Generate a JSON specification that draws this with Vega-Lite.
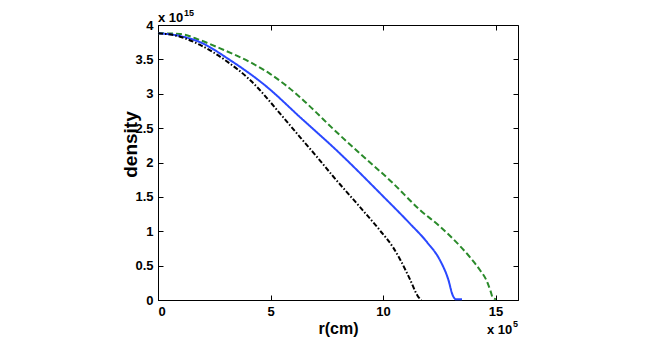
{
  "$schema": "https://vega.github.io/schema/vega-lite/v6.json",
  "width": 360,
  "height": 275,
  "autosize": {"type": "none"},
  "padding": {"left": 158, "top": 25, "right": 136, "bottom": 37},
  "background": "white",
  "config": {
    "view": {"stroke": "black", "strokeWidth": 1},
    "font": "Liberation Sans",
    "axis": {
      "grid": false,
      "domainColor": "black",
      "tickColor": "black",
      "tickSize": -5,
      "labelFont": "Liberation Sans",
      "labelFontWeight": "bold",
      "labelFontSize": 13,
      "labelColor": "black",
      "titleFont": "Liberation Sans",
      "titleFontWeight": "bold",
      "titleColor": "black"
    }
  },
  "datasets": {
    "curves": [
      {"r": 0, "density": 3.88, "series": "green"},
      {"r": 0.98, "density": 3.87, "series": "green"},
      {"r": 1.87, "density": 3.78, "series": "green"},
      {"r": 2.76, "density": 3.66, "series": "green"},
      {"r": 4.09, "density": 3.46, "series": "green"},
      {"r": 4.98, "density": 3.29, "series": "green"},
      {"r": 6.31, "density": 2.95, "series": "green"},
      {"r": 6.9, "density": 2.77, "series": "green"},
      {"r": 7.78, "density": 2.49, "series": "green"},
      {"r": 8.98, "density": 2.13, "series": "green"},
      {"r": 10.44, "density": 1.7, "series": "green"},
      {"r": 11.64, "density": 1.31, "series": "green"},
      {"r": 12.53, "density": 1.07, "series": "green"},
      {"r": 13.11, "density": 0.89, "series": "green"},
      {"r": 13.87, "density": 0.62, "series": "green"},
      {"r": 14.3, "density": 0.44, "series": "green"},
      {"r": 14.62, "density": 0.27, "series": "green"},
      {"r": 14.78, "density": 0.13, "series": "green"},
      {"r": 14.88, "density": 0.03, "series": "green"},
      {"r": 15.02, "density": 0.01, "series": "green"},

      {"r": 0, "density": 3.88, "series": "blue"},
      {"r": 0.98, "density": 3.84, "series": "blue"},
      {"r": 1.87, "density": 3.75, "series": "blue"},
      {"r": 3.2, "density": 3.49, "series": "blue"},
      {"r": 4.84, "density": 3.1, "series": "blue"},
      {"r": 6.31, "density": 2.66, "series": "blue"},
      {"r": 7.96, "density": 2.17, "series": "blue"},
      {"r": 10.0, "density": 1.51, "series": "blue"},
      {"r": 11.2, "density": 1.11, "series": "blue"},
      {"r": 11.96, "density": 0.84, "series": "blue"},
      {"r": 12.53, "density": 0.58, "series": "blue"},
      {"r": 12.89, "density": 0.31, "series": "blue"},
      {"r": 13.11, "density": 0.06, "series": "blue"},
      {"r": 13.24, "density": 0.01, "series": "blue"},
      {"r": 13.51, "density": 0.01, "series": "blue"},

      {"r": 0, "density": 3.88, "series": "black"},
      {"r": 0.98, "density": 3.83, "series": "black"},
      {"r": 1.87, "density": 3.71, "series": "black"},
      {"r": 2.98, "density": 3.49, "series": "black"},
      {"r": 4.09, "density": 3.2, "series": "black"},
      {"r": 5.56, "density": 2.66, "series": "black"},
      {"r": 6.31, "density": 2.37, "series": "black"},
      {"r": 7.07, "density": 2.08, "series": "black"},
      {"r": 7.78, "density": 1.8, "series": "black"},
      {"r": 8.98, "density": 1.35, "series": "black"},
      {"r": 9.87, "density": 1.01, "series": "black"},
      {"r": 10.44, "density": 0.77, "series": "black"},
      {"r": 10.76, "density": 0.59, "series": "black"},
      {"r": 11.2, "density": 0.3, "series": "black"},
      {"r": 11.56, "density": 0.05, "series": "black"},
      {"r": 11.7, "density": 0.0, "series": "black"}
    ],
    "corner": [{"r": 0, "density": 4}],
    "corner2": [{"r": 16, "density": 0}]
  },
  "layer": [
    {
      "data": {"name": "curves"},
      "mark": {"type": "line", "strokeWidth": 2, "interpolate": "monotone"},
      "encoding": {
        "x": {
          "field": "r", "type": "quantitative",
          "scale": {"domain": [0, 16], "nice": false},
          "axis": {"values": [0, 5, 10, 15], "title": "r(cm)", "titleFontSize": 16, "labelPadding": 10, "titlePadding": 2}
        },
        "y": {
          "field": "density", "type": "quantitative",
          "scale": {"domain": [0, 4], "nice": false},
          "axis": {"values": [0, 0.5, 1, 1.5, 2, 2.5, 3, 3.5, 4], "format": ".1~f", "title": "density", "titleFontSize": 19,
                   "labelPadding": 10, "titleAngle": -90, "titleBaseline": "alphabetic", "titleAlign": "center", "titleX": -22, "titleY": 119}
        },
        "color": {
          "field": "series", "type": "nominal", "legend": null,
          "scale": {"domain": ["green", "blue", "black"], "range": ["#2a8a2a", "#2a48ff", "#000000"]}
        },
        "strokeDash": {
          "field": "series", "type": "nominal", "legend": null,
          "scale": {"domain": ["green", "blue", "black"], "range": [[6, 3], [1, 0], [5, 2, 1.5, 2]]}
        }
      }
    },
    {
      "data": {"name": "corner"},
      "mark": {"type": "point", "opacity": 0},
      "encoding": {
        "x": {"field": "r", "type": "quantitative", "axis": {"orient": "top", "values": [0, 5, 10, 15], "labels": false, "title": null, "domain": false}},
        "y": {"field": "density", "type": "quantitative", "axis": {"orient": "right", "values": [0, 0.5, 1, 1.5, 2, 2.5, 3, 3.5, 4], "labels": false, "title": null, "domain": false}}
      }
    },
    {
      "data": {"name": "corner"},
      "mark": {"type": "text", "text": "x 10", "align": "left", "baseline": "alphabetic", "dy": -3, "fontSize": 13, "fontWeight": "bold", "font": "Liberation Sans", "color": "black"},
      "encoding": {"x": {"field": "r", "type": "quantitative", "axis": null}, "y": {"field": "density", "type": "quantitative", "axis": null}}
    },
    {
      "data": {"name": "corner"},
      "mark": {"type": "text", "text": "15", "align": "left", "baseline": "alphabetic", "dx": 26, "dy": -9, "fontSize": 9, "fontWeight": "bold", "font": "Liberation Sans", "color": "black"},
      "encoding": {"x": {"field": "r", "type": "quantitative", "axis": null}, "y": {"field": "density", "type": "quantitative", "axis": null}}
    },
    {
      "data": {"name": "corner2"},
      "mark": {"type": "text", "text": "x 10", "align": "left", "baseline": "alphabetic", "dx": -31, "dy": 34, "fontSize": 13, "fontWeight": "bold", "font": "Liberation Sans", "color": "black"},
      "encoding": {"x": {"field": "r", "type": "quantitative", "axis": null}, "y": {"field": "density", "type": "quantitative", "axis": null}}
    },
    {
      "data": {"name": "corner2"},
      "mark": {"type": "text", "text": "5", "align": "left", "baseline": "alphabetic", "dx": -5, "dy": 27, "fontSize": 9, "fontWeight": "bold", "font": "Liberation Sans", "color": "black"},
      "encoding": {"x": {"field": "r", "type": "quantitative", "axis": null}, "y": {"field": "density", "type": "quantitative", "axis": null}}
    }
  ],
  "resolve": {"axis": {"x": "independent", "y": "independent"}}
}
